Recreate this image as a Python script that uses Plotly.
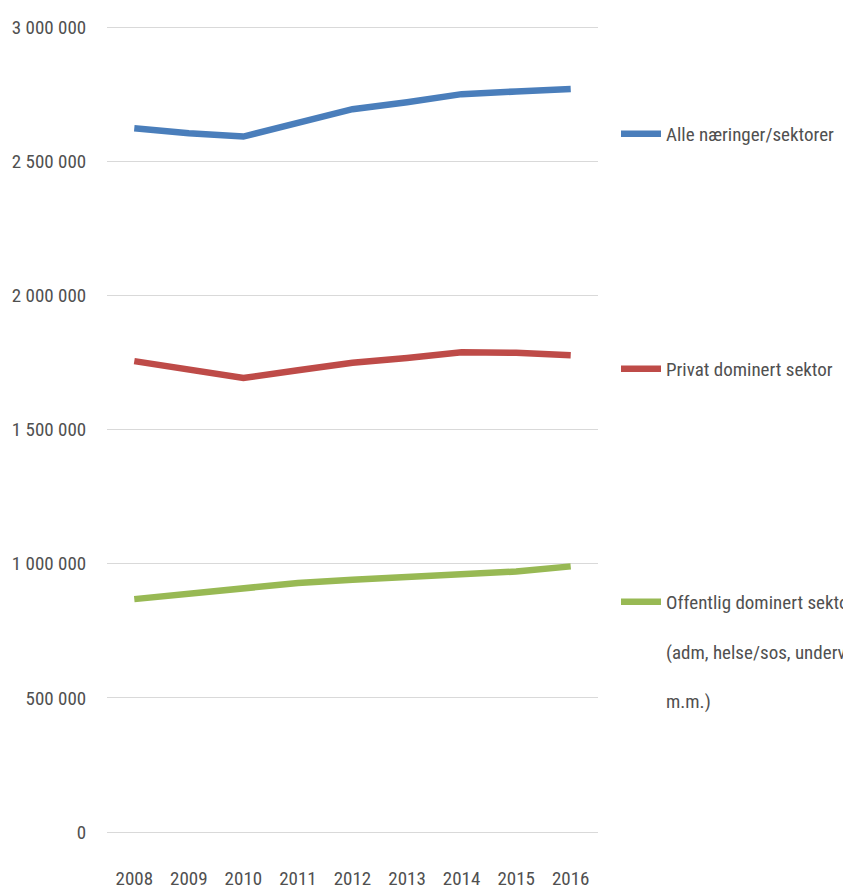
import plotly.graph_objects as go

# ── Data ──
years = ["2008", "2009", "2010", "2011", "2012", "2013", "2014", "2015", "2016"]

alle = [2623000, 2604000, 2592000, 2645000, 2694000, 2720000, 2750000, 2760000, 2769000]
privat = [1755000, 1726000, 1692000, 1721000, 1749000, 1767000, 1788000, 1786000, 1777000]
offentlig = [868000, 890000, 906000, 928000, 940000, 949000, 959000, 971000, 990000]

names = [
    "Alle næringer/sektorer",
    "Privat dominert sektor",
    "Offentlig dominert sektor<br> <br>(adm, helse/sos, undervisning<br> <br>m.m.)",
]
colors = ["#4A7EBB", "#BE4B48", "#98B954"]

FONT = "Liberation Sans Narrow, Roboto Condensed, Arial Narrow, sans-serif"
TXT = "#505050"

# the page puts the figure 8 px in from the top-left corner
W, H = 843, 883

fig = go.Figure()
for i, (vals, name, col) in enumerate(zip([alle, privat, offentlig], names, colors)):
    fig.add_trace(
        go.Scatter(
            x=years,
            y=vals,
            name=name,
            mode="lines",
            line=dict(color=col, width=6.5),
            legend="legend" if i == 0 else f"legend{i + 1}",
        )
    )

# one legend per series, placed level with its line
_leg = dict(
    xref="container",
    yref="container",
    x=608 / W,
    xanchor="left",
    yanchor="top",
    valign="top",
    font=dict(family=FONT, size=19, color=TXT),
    bgcolor="rgba(0,0,0,0)",
    itemwidth=40,
)

fig.update_layout(
    width=W,
    height=H,
    paper_bgcolor="white",
    plot_bgcolor="white",
    margin=dict(l=99, r=253, t=18, b=59),
    separators=", ",
    font=dict(family=FONT, size=19, color=TXT),
    showlegend=True,
    legend=dict(_leg, y=1 - 107 / H),
    legend2=dict(_leg, y=1 - 342 / H),
    legend3=dict(_leg, y=1 - 575 / H),
    xaxis=dict(
        type="category",
        range=[-0.5, 8.5],
        showgrid=False,
        showline=False,
        automargin=False,
        ticks="outside",
        ticklen=29,
        tickcolor="rgba(0,0,0,0)",
        tickfont=dict(family=FONT, size=19, color=TXT),
    ),
    yaxis=dict(
        range=[0, 3004000],  # a hair above 3 000 000 so its gridline is drawn
        dtick=500000,
        tickformat=",d",
        gridcolor="#D9D9D9",
        gridwidth=1,
        zeroline=True,
        zerolinecolor="#D9D9D9",
        zerolinewidth=1,
        showline=False,
        automargin=False,
        ticks="outside",
        ticklen=16,
        tickcolor="rgba(0,0,0,0)",
        tickfont=dict(family=FONT, size=19, color=TXT),
    ),
)

fig.write_html("out.html")
